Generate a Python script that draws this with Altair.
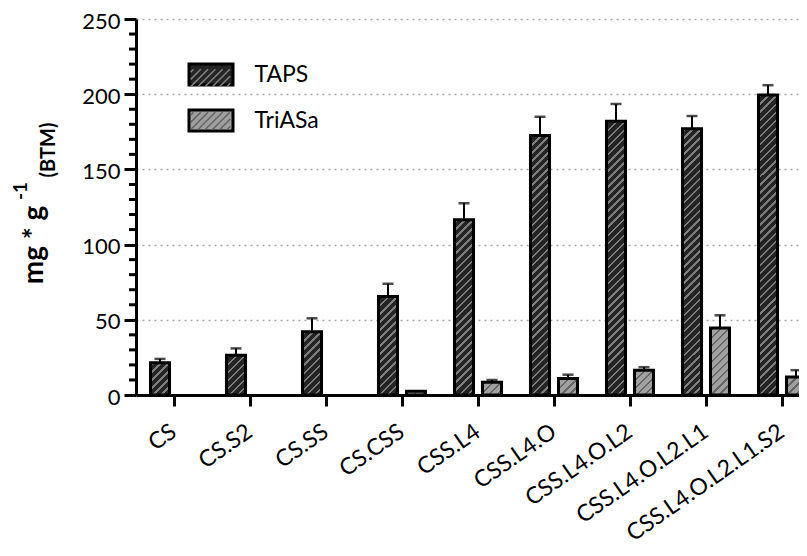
import math
import altair as alt
import pandas as pd

# ---------------- data ----------------
categories = ["CS", "CS.S2", "CS.SS", "CS.CSS", "CSS.L4", "CSS.L4.O",
              "CSS.L4.O.L2", "CSS.L4.O.L2.L1", "CSS.L4.O.L2.L1.S2"]
series = ["TAPS", "TriASa"]
taps = [21.5, 26.5, 42, 65.5, 116.5, 172.5, 182, 177, 199.5]
taps_err = [2.5, 4.5, 9, 8.5, 11, 12.5, 11.5, 8.5, 6.5]
triasa = [None, None, None, 2.5, 8.5, 11, 16.5, 44.5, 12]
triasa_err = [None, None, None, 0, 1.5, 2.5, 2, 8.5, 4.5]
y_major = [0, 50, 100, 150, 200, 250]
y_minor = [10, 20, 30, 40, 60, 70, 80, 90, 110, 120, 130, 140,
           160, 170, 180, 190, 210, 220, 230, 240]
title_main = ["mg * g"]
title_sup = ["-1"]
title_sub = ["(BTM)"]

# ---------------- styling ----------------
FONT = "Lato"
PLOT_W, PLOT_H = 663, 376
BAND_SPAN = 684          # 9 groups * 76 px, last group runs off the page edge
BAR_W = 19.04
Y_MAX = 250
BG = {"TAPS": "#242424", "TriASa": "#a0a0a0"}
LINE = {"TAPS": "#7e7e7e", "TriASa": "#666666"}


def hatch(bg, line, w, h, period=5.7, thick=1.8):
    """linear gradient drawing '///' stripes of constant pixel spacing"""
    h = max(h, 1.0)
    k = (w + h) / (w * w + h * h)
    total = (w + h) / math.sqrt(2)
    stops = [{"offset": 0, "color": bg}]
    d = 1.0
    while d < total:
        t0 = d / total
        t1 = min((d + thick) / total, 1)
        stops += [{"offset": t0, "color": bg}, {"offset": t0, "color": line},
                  {"offset": t1, "color": line}, {"offset": t1, "color": bg}]
        d += period
    stops.append({"offset": 1, "color": bg})
    return {"gradient": "linear", "x1": 0, "y1": 0, "x2": k * w, "y2": k * h,
            "stops": stops}


rows = []
for i, c in enumerate(categories):
    for s, vals, errs in (("TAPS", taps, taps_err), ("TriASa", triasa, triasa_err)):
        v = vals[i]
        if v is None:
            continue
        e = errs[i] or 0
        rows.append({"cat": c, "series": s, "value": v, "err": e, "top": v + e,
                     "grad": hatch(BG[s], LINE[s], BAR_W, v / Y_MAX * PLOT_H)})
df = pd.DataFrame(rows)
err_df = df[df["err"] > 0].drop(columns=["grad"])
hatch_keys = [s + "_hatch" for s in series]
leg_df = pd.DataFrame({"series": series, "series_h": hatch_keys})
minor_df = pd.DataFrame({"v": y_minor})

# legend symbol paths (unit = 22 px for size 1936)
RECT = "M-1,-0.477H1V0.477H-1Z"
segs = []
hh = 0.40
c = -1.5
while c < 1.6:
    xa, ya = c - hh, hh
    xb, yb = c + hh, -hh
    lo, hi = -0.9, 0.9
    if xb > lo and xa < hi:
        if xa < lo:
            ya = ya - (lo - xa); xa = lo
        if xb > hi:
            yb = yb + (xb - hi); xb = hi
        segs.append(f"M{xa:.3f},{ya:.3f}L{xb:.3f},{yb:.3f}")
    c += 0.33
HATCH = "".join(segs)

X_AXIS = alt.Axis(title=None, labelAngle=-35, labelAlign="right",
                  labelBaseline="middle", labelFont=FONT, labelFontSize=23,
                  labelColor="black", labelPadding=23, labelLimit=0,
                  labelOverlap=False, tickSize=11, tickWidth=3,
                  tickColor="black", domainWidth=3, domainColor="black",
                  grid=False)
Y_AXIS = alt.Axis(values=y_major, title=None, tickSize=12, tickWidth=3,
                  tickColor="black", domainWidth=3, domainColor="black",
                  labelFont=FONT, labelFontSize=22, labelColor="black",
                  labelPadding=4, labelOffset=2, grid=True, gridDash=[2, 4],
                  gridColor="#a6a6a6", gridWidth=1.5, orient="left")

x_enc = alt.X("cat:N", sort=categories,
              scale=alt.Scale(range=[0, BAND_SPAN], paddingInner=0, paddingOuter=0),
              axis=X_AXIS)
xo_enc = alt.XOffset("series:N", sort=series,
                     scale=alt.Scale(domain=series, paddingInner=0.32, paddingOuter=0.517))
y_scale = alt.Scale(domain=[0, Y_MAX], nice=False)

bars = alt.Chart(df).mark_bar(stroke="black", strokeWidth=3).encode(
    x=x_enc, xOffset=xo_enc,
    y=alt.Y("value:Q", scale=y_scale, axis=Y_AXIS),
    fill=alt.Fill("grad:N", scale=None, legend=None),
)

# minor y ticks (every 10 units), positioned by the y scale
minor = alt.Chart(minor_df).mark_rule(color="black", strokeWidth=3).encode(
    y=alt.Y("v:Q", scale=y_scale, axis=Y_AXIS),
    x=alt.value(-7), x2=alt.value(0),
)

stems = alt.Chart(err_df).mark_rule(color="black", strokeWidth=2).encode(
    x=x_enc, xOffset=xo_enc,
    y=alt.Y("value:Q", scale=y_scale, axis=Y_AXIS),
    y2="top:Q",
)

caps = alt.Chart(err_df).mark_tick(color="black", thickness=2.5, size=11,
                                   orient="horizontal").encode(
    x=x_enc, xOffset=xo_enc,
    y=alt.Y("top:Q", scale=y_scale, axis=Y_AXIS),
)

leg_common = dict(orient="none", legendX=51.5, title=None,
                  symbolSize=1936, labelFont=FONT, labelFontSize=23,
                  labelColor="black", labelOffset=20, padding=0,
                  labelLimit=0, symbolOpacity=1)

leg1 = alt.Chart(leg_df).mark_point(filled=True, opacity=0).encode(
    color=alt.Color("series:N", sort=series,
                    scale=alt.Scale(domain=series, range=[BG["TAPS"], BG["TriASa"]]),
                    legend=alt.Legend(symbolType=RECT, symbolStrokeColor="black",
                                      symbolStrokeWidth=3, legendY=32, rowPadding=6,
                                      **leg_common)),
)
leg2 = alt.Chart(leg_df).mark_point(filled=False, opacity=0).encode(
    stroke=alt.Stroke("series_h:N", sort=hatch_keys,
                      scale=alt.Scale(domain=hatch_keys, range=[LINE["TAPS"], LINE["TriASa"]]),
                      legend=alt.Legend(symbolType=HATCH, symbolStrokeWidth=1.6,
                                        labelExpr="' '", legendY=36, rowPadding=8,
                                        **leg_common)),
)

t_main = alt.Chart(pd.DataFrame({"t": title_main})).mark_text(
    angle=270, align="center", baseline="alphabetic", font=FONT,
    fontWeight="bold", fontSize=28, color="black").encode(
    text="t:N", x=alt.value(-93), y=alt.value(226))
t_sup = alt.Chart(pd.DataFrame({"t": title_sup})).mark_text(
    angle=270, align="center", baseline="alphabetic", font=FONT,
    fontWeight="bold", fontSize=19, color="black").encode(
    text="t:N", x=alt.value(-109), y=alt.value(172))
t_sub = alt.Chart(pd.DataFrame({"t": title_sub})).mark_text(
    angle=270, align="center", baseline="alphabetic", font=FONT,
    fontWeight="bold", fontSize=20, color="black").encode(
    text="t:N", x=alt.value(-81), y=alt.value(131))

chart = alt.layer(bars, minor, stems, caps, leg1, leg2, t_main, t_sup, t_sub).properties(
    width=PLOT_W, height=PLOT_H,
    autosize=alt.AutoSizeParams(type="none"),
    padding={"left": 128, "top": 11, "right": 0, "bottom": 153},
).configure_view(stroke=None)

chart.save("out.html", embed_options={"renderer": "svg", "actions": False})
